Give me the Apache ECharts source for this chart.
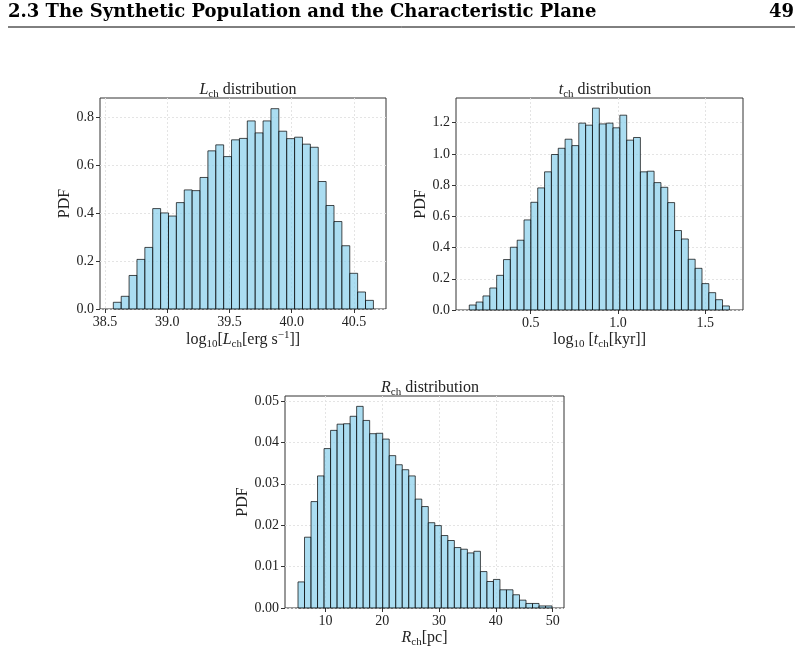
<!DOCTYPE html>
<html>
<head>
<meta charset="utf-8">
<script src="https://cdn.jsdelivr.net/npm/echarts@6/dist/echarts.min.js"></script>
<style>
  html, body { margin: 0; padding: 0; background: #fff; }
  #chart { width: 802px; height: 652px; }
</style>
</head>
<body>
<div id="chart"></div>
<script>
// ---- data ----
// L_ch histogram: 33 bins from 38.567, width 0.0633
const L_EDGE0 = 38.567
const L_BIN = 0.0633
const L_PDF = [0.028, 0.053, 0.140, 0.207, 0.257, 0.419, 0.401, 0.388, 0.444, 0.497, 0.494,
  0.549, 0.660, 0.685, 0.636, 0.706, 0.712, 0.785, 0.735, 0.785, 0.836, 0.742,
  0.711, 0.717, 0.688, 0.675, 0.532, 0.432, 0.365, 0.264, 0.149, 0.071, 0.036]
const L_XTICKS = [38.5, 39.0, 39.5, 40.0, 40.5]
const L_YTICKS = [0, 0.2, 0.4, 0.6, 0.8]

// t_ch histogram: 38 bins from 0.1483, width 0.0392
const T_EDGE0 = 0.1483
const T_BIN = 0.0392
const T_PDF = [0.032, 0.051, 0.090, 0.141, 0.222, 0.323, 0.402, 0.447, 0.577, 0.690,
  0.782, 0.885, 0.996, 1.036, 1.094, 1.053, 1.197, 1.184, 1.293, 1.192,
  1.197, 1.167, 1.248, 1.088, 1.105, 0.885, 0.889, 0.816, 0.786, 0.688,
  0.509, 0.455, 0.325, 0.267, 0.169, 0.111, 0.066, 0.026]
const T_XTICKS = [0.5, 1.0, 1.5]
const T_YTICKS = [0, 0.2, 0.4, 0.6, 0.8, 1.0, 1.2]

// R_ch histogram: 39 bins from 5.15, width 1.1474
const R_EDGE0 = 5.15
const R_BIN = 1.1474
const R_PDF = [0.0063, 0.0171, 0.0257, 0.0319, 0.0385, 0.0429, 0.0444, 0.0445, 0.0463, 0.0487,
  0.0453, 0.0421, 0.0422, 0.0408, 0.0368, 0.0346, 0.0334, 0.0319, 0.0263, 0.0245,
  0.0206, 0.0199, 0.0175, 0.0163, 0.0146, 0.0142, 0.0133, 0.0137, 0.0088, 0.0064,
  0.0069, 0.0044, 0.0044, 0.0032, 0.0019, 0.0011, 0.0011, 0.0005, 0.0005]
const R_XTICKS = [10, 20, 30, 40, 50]
const R_YTICKS = [0, 0.01, 0.02, 0.03, 0.04, 0.05]

// ---- styling ----
const SERIF = '"Liberation Serif", "DejaVu Serif", serif'
const FILL = 'rgba(135,206,235,0.7)'
const EDGE = 'rgba(0,0,0,0.7)'
const INK = '#222'
const FRAME = '#333'
const GRIDLINE = '#e4e4e4'

const RICH = {
  r:  { fontFamily: SERIF, fontSize: 16, lineHeight: 20, fontWeight: 'normal', color: INK },
  i:  { fontFamily: SERIF, fontSize: 16, lineHeight: 20, fontWeight: 'normal', fontStyle: 'italic', color: INK },
  s:  { fontFamily: SERIF, fontSize: 11, lineHeight: 10, fontWeight: 'normal', verticalAlign: 'bottom', color: INK },
  p:  { fontFamily: SERIF, fontSize: 11, lineHeight: 10, fontWeight: 'normal', verticalAlign: 'top', color: INK }
}

function bins(edge0, width, pdf) {
  return pdf.map((h, i) => [edge0 + i * width, edge0 + (i + 1) * width, h])
}

function histItem(params, api) {
  const p0 = api.coord([api.value(0), api.value(2)])
  const p1 = api.coord([api.value(1), 0])
  return {
    type: 'rect',
    shape: { x: p0[0], y: p0[1], width: p1[0] - p0[0], height: p1[1] - p0[1] },
    style: { fill: FILL, stroke: EDGE, lineWidth: 1 }
  }
}

function xAx(idx, min, max, ticks, digits, name, gap) {
  return {
    type: 'value', gridIndex: idx, min: min, max: max,
    name: name, nameLocation: 'middle', nameGap: gap,
    nameTextStyle: { rich: RICH },
    axisLine: { show: false },
    axisTick: { show: true, customValues: ticks, length: 4, lineStyle: { color: FRAME } },
    axisLabel: { customValues: ticks, formatter: v => v.toFixed(digits),
      fontFamily: SERIF, fontSize: 14, color: INK, margin: 6 },
    splitLine: { show: true, lineStyle: { color: GRIDLINE, type: [2, 2], width: 1 } }
  }
}

function yAx(idx, max, ticks, digits, gap) {
  return {
    type: 'value', gridIndex: idx, min: 0, max: max,
    name: 'PDF', nameLocation: 'middle', nameGap: gap, nameRotate: 90,
    nameTextStyle: { fontFamily: SERIF, fontSize: 16, color: INK },
    axisLine: { show: false },
    axisTick: { show: true, customValues: ticks, length: 4, lineStyle: { color: FRAME } },
    axisLabel: { customValues: ticks, formatter: v => v.toFixed(digits),
      fontFamily: SERIF, fontSize: 14, color: INK, margin: 6 },
    splitLine: { show: true, lineStyle: { color: GRIDLINE, type: [2, 2], width: 1 } }
  }
}

function title(text, cx, top) {
  return { text: text, left: cx, top: top, textAlign: 'center',
    textStyle: { fontWeight: 'normal', rich: RICH } }
}

const chart = echarts.init(document.getElementById('chart'), null, { renderer: 'canvas' })

chart.setOption({
  animation: false,
  textStyle: { fontFamily: SERIF },
  title: [
    title('{i|L}{s|ch}{r| distribution}', 243, 75),
    title('{i|t}{s|ch}{r| distribution}', 600, 75),
    title('{i|R}{s|ch}{r| distribution}', 425, 373)
  ],
  grid: [
    { left: 100, top: 98, width: 286, height: 211, show: true, borderColor: FRAME, borderWidth: 1, backgroundColor: 'transparent' },
    { left: 456, top: 98, width: 287, height: 212, show: true, borderColor: FRAME, borderWidth: 1, backgroundColor: 'transparent' },
    { left: 285, top: 396, width: 279, height: 212, show: true, borderColor: FRAME, borderWidth: 1, backgroundColor: 'transparent' }
  ],
  xAxis: [
    xAx(0, 38.46, 40.757, L_XTICKS, 1, '{r|log}{s|10}{r|[}{i|L}{s|ch}{r|[erg s}{p|−1}{r|]]}', 20),
    xAx(1, 0.0722, 1.716, T_XTICKS, 1, '{r|log}{s|10}{r| [}{i|t}{s|ch}{r|[kyr]]}', 20),
    xAx(2, 2.86, 52.0, R_XTICKS, 0, '{i|R}{s|ch}{r|[pc]}', 20)
  ],
  yAxis: [
    yAx(0, 0.8806, L_YTICKS, 1, 25),
    yAx(1, 1.358, T_YTICKS, 1, 25),
    yAx(2, 0.0512, R_YTICKS, 2, 33)
  ],
  series: [
    { type: 'custom', xAxisIndex: 0, yAxisIndex: 0, renderItem: histItem,
      encode: { x: [0, 1], y: 2 }, data: bins(L_EDGE0, L_BIN, L_PDF) },
    { type: 'custom', xAxisIndex: 1, yAxisIndex: 1, renderItem: histItem,
      encode: { x: [0, 1], y: 2 }, data: bins(T_EDGE0, T_BIN, T_PDF) },
    { type: 'custom', xAxisIndex: 2, yAxisIndex: 2, renderItem: histItem,
      encode: { x: [0, 1], y: 2 }, data: bins(R_EDGE0, R_BIN, R_PDF) }
  ],
  graphic: [
    { type: 'text', left: 8, top: 3,
      style: { text: '2.3 The Synthetic Population and the Characteristic Plane',
        font: 'bold 18px "DejaVu Serif", serif', fill: '#000' } },
    { type: 'text', right: 8, top: 3,
      style: { text: '49', font: 'bold 18px "DejaVu Serif", serif', fill: '#000' } },
    { type: 'line', shape: { x1: 8, y1: 27, x2: 795, y2: 27 },
      style: { stroke: '#000', lineWidth: 1 } }
  ]
})
</script>
</body>
</html>
